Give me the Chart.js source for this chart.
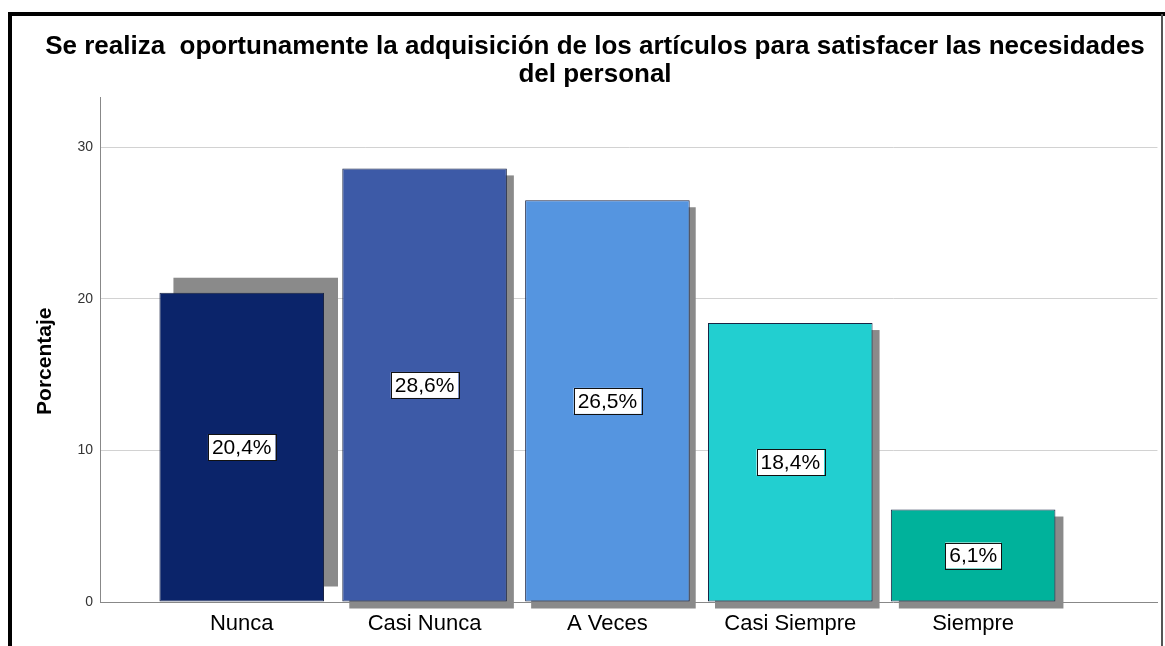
<!DOCTYPE html>
<html>
<head>
<meta charset="utf-8">
<script src="https://cdn.jsdelivr.net/npm/chart.js@4"></script>
<style>
  html, body { margin: 0; padding: 0; background: #fff; }
  canvas { display: block; }
</style>
</head>
<body>
<canvas id="barChart" width="1165" height="646"></canvas>
<script>
// Data
const categories = ['Nunca', 'Casi Nunca', 'A Veces', 'Casi Siempre', 'Siempre'];
const percentages = [20.4, 28.6, 26.5, 18.4, 6.1];
const yTicks = [0, 10, 20, 30];
const titleLines = [
    'Se realiza  oportunamente la adquisición de los artículos para satisfacer las necesidades',
    'del personal'
];

// Styles
const barColors = ['#0b246a', '#3d5aa7', '#5595e0', '#22cfd0', '#00b29b'];
const shadowOffsets = [[14, -15], [7, 7], [6, 7], [7, 7], [8, 7]];
const fontFamily = '"Liberation Sans", Arial, sans-serif';

// gray drop shadow behind each bar
const barShadows = {
    id: 'barShadows',
    beforeDatasetsDraw(chart) {
        const ctx = chart.ctx;
        ctx.save();
        ctx.fillStyle = '#8a8a8a';
        chart.getDatasetMeta(0).data.forEach((bar, i) => {
            const [dx, dy] = shadowOffsets[i];
            ctx.fillRect(bar.x - bar.width / 2 + dx, bar.y + dy, bar.width, bar.base - bar.y);
        });
        ctx.restore();
    }
};

// boxed percentage labels in the middle of the bars
const valueBoxes = {
    id: 'valueBoxes',
    afterDatasetsDraw(chart) {
        const ctx = chart.ctx;
        ctx.save();
        ctx.font = '21px ' + fontFamily;
        ctx.textAlign = 'center';
        ctx.textBaseline = 'middle';
        chart.getDatasetMeta(0).data.forEach((bar, i) => {
            const text = percentages[i].toFixed(1).replace('.', ',') + '%';
            const w = ctx.measureText(text).width + 8;
            const h = 26;
            const cx = bar.x;
            const cy = (bar.y + bar.base) / 2;
            ctx.fillStyle = '#fff';
            ctx.fillRect(cx - w / 2, cy - h / 2, w, h);
            ctx.strokeStyle = '#111';
            ctx.lineWidth = 1;
            ctx.strokeRect(Math.round(cx - w / 2) + 0.5, Math.round(cy - h / 2) + 0.5, Math.round(w), h);
            ctx.fillStyle = '#000';
            ctx.fillText(text, cx, cy + 1);
        });
        ctx.restore();
    }
};

// white page and the black frame round it
const frame = {
    id: 'frame',
    beforeDraw(chart) {
        const ctx = chart.ctx;
        ctx.save();
        ctx.fillStyle = '#fff';
        ctx.fillRect(0, 0, chart.width, chart.height);
        ctx.restore();
    },
    afterDraw(chart) {
        const ctx = chart.ctx;
        ctx.save();
        ctx.fillStyle = '#000';
        ctx.fillRect(8, 12, chart.width - 8, 4);
        ctx.fillRect(8, 12, 4, chart.height - 12);
        ctx.fillStyle = '#555';
        ctx.fillRect(1161, 14, 2, chart.height - 14);
        ctx.restore();
    }
};

const ctx = document.getElementById('barChart').getContext('2d');
new Chart(ctx, {
    type: 'bar',
    data: {
        datasets: [{
            data: percentages.map((v, i) => ({ x: i, y: v })),
            backgroundColor: barColors,
            borderColor: '#1a2444',
            borderWidth: 1,
            borderSkipped: false,
            barPercentage: 0.9,
            categoryPercentage: 1.0
        }]
    },
    options: {
        responsive: false,
        animation: false,
        layout: { padding: { left: 30, right: 5, top: 0, bottom: 0 } },
        plugins: {
            legend: { display: false },
            tooltip: { enabled: false },
            title: {
                display: true,
                text: titleLines,
                color: '#000',
                font: { family: fontFamily, size: 26, weight: 'bold', lineHeight: 1.08 },
                padding: { top: 33, bottom: 8 }
            }
        },
        scales: {
            x: {
                type: 'linear',
                offset: false,
                min: -0.775,
                max: 5.008,
                grid: { display: false, drawTicks: false },
                border: { color: '#888', width: 1 },
                ticks: {
                    stepSize: 1,
                    includeBounds: false,
                    autoSkip: false,
                    maxRotation: 0,
                    padding: 9,
                    color: '#000',
                    font: { family: fontFamily, size: 22 },
                    callback: (v) => Number.isInteger(v) && categories[v] ? categories[v] : ''
                },
                afterFit: (s) => { s.height = 44; }
            },
            y: {
                min: 0,
                max: 33.3,
                afterBuildTicks: (s) => { s.ticks = yTicks.map(v => ({ value: v })); },
                grid: {
                    drawTicks: false,
                    color: (c) => c.tick && c.tick.value === 0 ? 'rgba(0,0,0,0)' : '#d2d2d2'
                },
                border: { color: '#888', width: 1 },
                ticks: {
                    padding: 7,
                    color: '#333',
                    font: { family: fontFamily, size: 14 }
                },
                title: {
                    display: true,
                    text: 'Porcentaje    ',
                    color: '#000',
                    font: { family: fontFamily, size: 21, weight: 'bold' },
                    padding: { top: 3, bottom: 0 }
                },
                afterFit: (s) => { s.width = 70; }
            }
        }
    },
    plugins: [frame, barShadows, valueBoxes]
});
</script>
</body>
</html>
